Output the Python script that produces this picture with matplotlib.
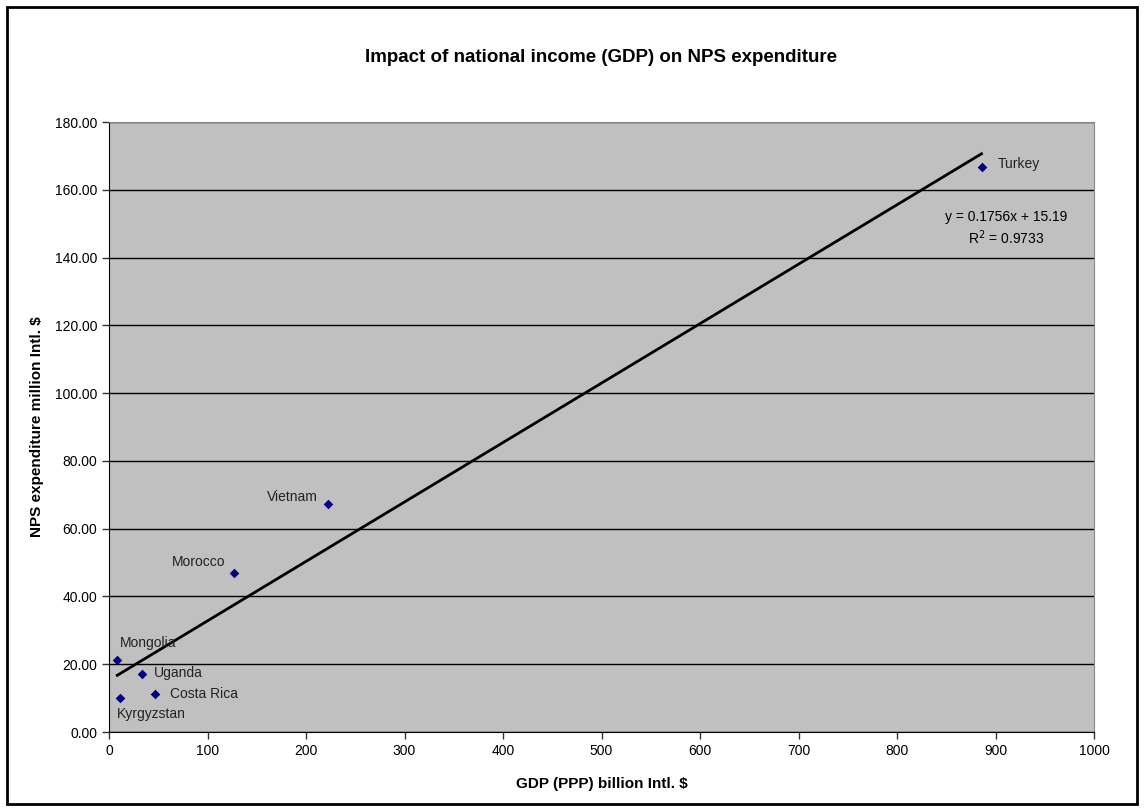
import matplotlib.pyplot as plt
import numpy as np
from matplotlib.patches import Rectangle

plt.rcParams["font.family"] = ["Liberation Sans", "DejaVu Sans"]

countries = ["Turkey", "Vietnam", "Morocco", "Mongolia", "Uganda", "Costa Rica", "Kyrgyzstan"]
gdp = [885.8, 221.9, 126.8, 8.4, 33.2, 46.4, 11.2]
nps = [166.8, 67.4, 46.9, 21.2, 17.0, 11.3, 10.1]

x_ticks = list(range(0, 1001, 100))
y_ticks = list(range(0, 181, 20))

# label offsets in points (dx, dy, ha)
label_pos = {
    "Turkey": (12, 2, "left"),
    "Vietnam": (-7, 5, "right"),
    "Morocco": (-6, 8, "right"),
    "Mongolia": (2, 12, "left"),
    "Uganda": (9, 1, "left"),
    "Costa Rica": (11, 0, "left"),
    "Kyrgyzstan": (-2, -12, "left"),
}


def main():
    fig = plt.figure(figsize=(11.44, 8.11), dpi=100)
    ax = fig.add_axes([109 / 1144, 1 - 732 / 811, (1094 - 109) / 1144, (732 - 122) / 811])
    ax.set_facecolor("#c0c0c0")

    x = np.array(gdp)
    y = np.array(nps)
    slope, icpt = np.polyfit(x, y, 1)
    xs = np.array([x.min(), x.max()])
    ax.plot(xs, slope * xs + icpt, color="black", lw=2, zorder=3)

    ax.scatter(x, y, marker="D", s=24, color="#000080", zorder=4, linewidths=0)
    for name, xi, yi in zip(countries, gdp, nps):
        dx, dy, ha = label_pos[name]
        ax.annotate(name, (xi, yi), xytext=(dx, dy), textcoords="offset points",
                    ha=ha, va="center", fontsize=10, color="#222222")

    ax.text(911, 152, "y = 0.1756x + 15.19", ha="center", va="center", fontsize=10)
    ax.text(911, 146, "R$^2$ = 0.9733", ha="center", va="center", fontsize=10)

    ax.set_xlim(0, 1000)
    ax.set_ylim(0, 180)
    ax.set_xticks(x_ticks)
    ax.set_yticks(y_ticks)
    ax.set_yticklabels([f"{v:.2f}" for v in y_ticks])
    ax.tick_params(labelsize=10, length=5, width=1, direction="out", color="#333333")
    ax.grid(axis="y", color="black", lw=1)
    ax.set_axisbelow(True)
    for s in ["top", "right"]:
        ax.spines[s].set_color("#888888")
    for s in ["left", "bottom"]:
        ax.spines[s].set_color("black")

    ax.set_xlabel("GDP (PPP) billion Intl. $", fontsize=11, fontweight="bold", labelpad=14)
    ax.set_ylabel("NPS expenditure million Intl. $", fontsize=11, fontweight="bold", labelpad=8)
    fig.text(0.525, 1 - 57 / 811, "Impact of national income (GDP) on NPS expenditure",
             ha="center", va="center", fontsize=13.5, fontweight="bold")

    fig.patches.append(Rectangle((7 / 1144, 7 / 811), 1130 / 1144, 797 / 811,
                                 transform=fig.transFigure, fill=False, ec="black", lw=2))

    fig.savefig("out.png", dpi=100)
    plt.close(fig)


if __name__ == "__main__":
    main()
